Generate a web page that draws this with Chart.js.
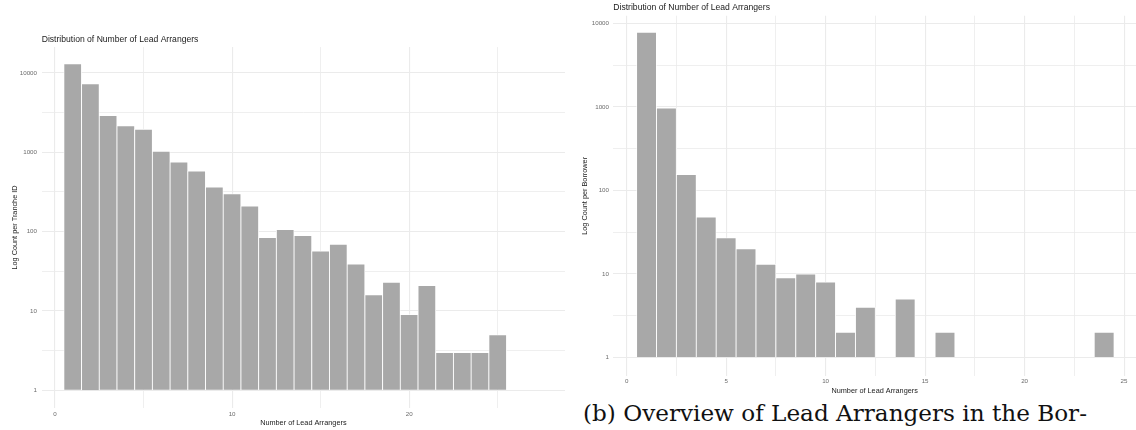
<!DOCTYPE html>
<html>
<head>
<meta charset="utf-8">
<script src="https://cdn.jsdelivr.net/npm/chart.js@4"></script>
<style>
  body { margin: 0; background: #fff; width: 1136px; height: 430px; position: relative; overflow: hidden; }
  canvas { position: absolute; }
  #leftChart { left: 0; top: 30px; }
  #rightChart { left: 570px; top: 0; }
  #caption { position: absolute; left: 583px; top: 400px; font-family: "DejaVu Serif", serif; font-size: 21px; color: #111; white-space: nowrap; }
</style>
</head>
<body>
<canvas id="leftChart" width="565" height="400"></canvas>
<canvas id="rightChart" width="566" height="400"></canvas>
<div id="caption">(b) Overview of Lead Arrangers in the Bor-</div>
<script>
// left panel: count per tranche id
const leftArrangers = [1, 2, 3, 4, 5, 6, 7, 8, 9, 10, 11, 12, 13, 14, 15, 16, 17, 18, 19, 20, 21, 22, 23, 24, 25]
const leftCounts = [13000, 7300, 2900, 2150, 1950, 1030, 750, 580, 365, 300, 210, 84, 106, 89, 57, 69, 39, 16, 23, 9, 21, 3, 3, 3, 5]

// right panel: count per borrower
const rightArrangers = [1, 2, 3, 4, 5, 6, 7, 8, 9, 10, 11, 12, 14, 16, 24]
const rightCounts = [7800, 965, 155, 48, 27, 20, 13, 9, 10, 8, 2, 4, 5, 2, 2]

const yMajorTicks = [1, 10, 100, 1000, 10000]
const leftXTicks = [0, 5, 10, 15, 20, 25]
const leftXLabels = [0, 10, 20]
const rightXTicks = [0, 2.5, 5, 7.5, 10, 12.5, 15, 17.5, 20, 22.5, 25]
const rightXLabels = [0, 5, 10, 15, 20, 25]

const titleText = "Distribution of Number of Lead Arrangers"
const xTitle = "Number of Lead Arrangers"

const gridColor = "#ebebeb"
const barColor = "#a8a8a8"
const sans = "'Liberation Sans', Arial, sans-serif"

function makeChart(id, cfg) {
  // major ticks plus ggplot-style minor breaks halfway in log space
  const yTicks = []
  yMajorTicks.forEach((v) => {
    yTicks.push(v)
    yTicks.push(v * Math.sqrt(10))
  })

  return new Chart(document.getElementById(id), {
    type: "bar",
    data: {
      datasets: [
        {
          data: cfg.xs.map((x, i) => ({ x: x, y: cfg.ys[i] })),
          backgroundColor: barColor,
          borderColor: "#ffffff",
          borderWidth: 0.8,
          base: 1,
          barPercentage: 1,
          categoryPercentage: 1,
        },
      ],
    },
    options: {
      responsive: false,
      animation: false,
      devicePixelRatio: 1,
      layout: { padding: 0 },
      plugins: {
        legend: { display: false },
        tooltip: { enabled: false },
        title: {
          display: true,
          text: titleText,
          align: "start",
          fullSize: false,
          color: "#1a1a1a",
          font: { family: sans, size: 8.6, weight: "normal" },
          padding: cfg.titlePad,
        },
      },
      scales: {
        x: {
          type: "linear",
          offset: false,
          min: cfg.xMin,
          max: cfg.xMax,
          border: { display: false },
          grid: {
            color: gridColor,
            lineWidth: (ctx) => (ctx.tick && cfg.xLabels.includes(ctx.tick.value) ? 1.1 : 0.8),
            drawTicks: false,
            offset: false,
          },
          afterBuildTicks: (scale) => {
            scale.ticks = cfg.xTicks.map((v) => ({ value: v }))
          },
          afterFit: (scale) => {
            scale.height = cfg.xHeight
          },
          ticks: {
            autoSkip: false,
            maxRotation: 0,
            padding: cfg.xTickPad,
            color: "#6b6b6b",
            font: { family: sans, size: 6.2 },
            callback: (v) => (cfg.xLabels.includes(v) ? String(v) : ""),
          },
          title: {
            display: true,
            text: xTitle,
            color: "#1a1a1a",
            font: { family: sans, size: 7.3 },
            padding: { top: 0, bottom: cfg.xTitlePad },
          },
        },
        y: {
          type: "logarithmic",
          min: cfg.yMin,
          max: cfg.yMax,
          border: { display: false },
          grid: {
            color: gridColor,
            lineWidth: (ctx) => (ctx.tick && yMajorTicks.includes(ctx.tick.value) ? 1.1 : 0.8),
            drawTicks: false,
          },
          afterBuildTicks: (scale) => {
            scale.ticks = yTicks.filter((v) => v >= cfg.yMin && v <= cfg.yMax).map((v) => ({ value: v }))
          },
          afterFit: (scale) => {
            scale.width = cfg.yWidth
          },
          ticks: {
            autoSkip: false,
            padding: cfg.yTickPad,
            color: "#6b6b6b",
            font: { family: sans, size: 6.2 },
            callback: (v) => (yMajorTicks.includes(v) ? String(v) : ""),
          },
          title: {
            display: true,
            text: cfg.yTitle,
            color: "#1a1a1a",
            font: { family: sans, size: 7.3 },
            padding: { top: cfg.yTitlePad, bottom: 0 },
          },
        },
      },
    },
  })
}

makeChart("leftChart", {
  xs: leftArrangers,
  ys: leftCounts,
  xTicks: leftXTicks,
  xLabels: leftXLabels,
  xMin: -0.75,
  xMax: 28.8,
  yMin: Math.pow(10, -0.2),
  yMax: Math.pow(10, 4.325),
  yTitle: "Log Count per Tranche ID",
  titlePad: { top: 4.1, bottom: 2.6 },
  xHeight: 22,
  xTickPad: 2.4,
  xTitlePad: 3.1,
  yWidth: 41.7,
  yTickPad: 4.7,
  yTitlePad: 10.8,
})

makeChart("rightChart", {
  xs: rightArrangers,
  ys: rightCounts,
  xTicks: rightXTicks,
  xLabels: rightXLabels,
  xMin: -0.67,
  xMax: 25.6,
  yMin: Math.pow(10, -0.19),
  yMax: Math.pow(10, 4.09),
  yTitle: "Log Count per Borrower",
  titlePad: { top: 2.1, bottom: 3.3 },
  xHeight: 24,
  xTickPad: 2,
  xTitlePad: 4.9,
  yWidth: 43.3,
  yTickPad: 4.3,
  yTitlePad: 10.6,
})

// fit the caption to the width it has in the reference
const caption = document.getElementById("caption")
const ctx = document.createElement("canvas").getContext("2d")
ctx.font = "21px 'DejaVu Serif'"
const w = ctx.measureText(caption.textContent).width
caption.style.fontSize = (21 * 504 / w).toFixed(2) + "px"
</script>
</body>
</html>
